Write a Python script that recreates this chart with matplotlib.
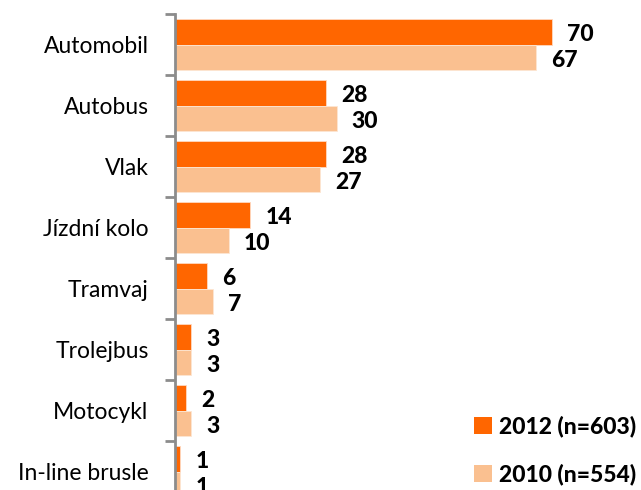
import matplotlib.pyplot as plt
from matplotlib.patches import Patch
import numpy as np

plt.rcParams['font.family'] = ['Lato', 'DejaVu Sans']

categories = ["Automobil", "Autobus", "Vlak", "Jízdní kolo", "Tramvaj",
              "Trolejbus", "Motocykl", "In-line brusle"]
vals_2012 = [70, 28, 28, 14, 6, 3, 2, 1]
vals_2010 = [67, 30, 27, 10, 7, 3, 3, 1]
series_names = ["2012 (n=603)", "2010 (n=554)"]

c2012 = "#FF6600"
c2010 = "#FAC090"

fig = plt.figure(figsize=(6.41, 4.90), dpi=100)
# axes deliberately runs past the bottom edge
ax = fig.add_axes([175 / 641, 1 - 502 / 490, 463 / 641, 488 / 490])

y = np.arange(len(categories))
h = 0.418
b1 = ax.barh(y - h / 2, vals_2012, height=h, color=c2012, edgecolor="#FFD9C0", linewidth=0.6)
b2 = ax.barh(y + h / 2, vals_2010, height=h, color=c2010, edgecolor="#FDE6D2", linewidth=0.6)

for bars, vals in ((b1, vals_2012), (b2, vals_2010)):
    for rect, v in zip(bars, vals):
        ax.annotate(str(v), (rect.get_width(), rect.get_y() + rect.get_height() / 2),
                    xytext=(11, -2), textcoords="offset points",
                    ha="left", va="center", fontsize=16.5, fontweight="black", color="black")

ax.set_xlim(0, 86)
ax.set_ylim(len(categories) - 0.5, -0.5)

for s in ("top", "right", "bottom"):
    ax.spines[s].set_visible(False)
ax.spines["left"].set_color("#8C8C8C")
ax.spines["left"].set_linewidth(2)
ax.set_xticks([])

ax.set_yticks(y)
ax.set_yticklabels(categories, fontsize=16.5)
ax.tick_params(axis="y", which="major", length=0, pad=19)
ax.set_yticks(np.arange(len(categories) + 1) - 0.5, minor=True)
ax.tick_params(axis="y", which="minor", length=7, width=2, color="#8C8C8C")

handles = [Patch(facecolor=c2012, edgecolor="none"), Patch(facecolor=c2010, edgecolor="none")]
fig.legend(handles, series_names, loc="upper right", bbox_to_anchor=(1.0, 1 - 411 / 490),
           frameon=False, prop={"weight": "black", "size": 16.5},
           handlelength=0.8, handleheight=0.8, handletextpad=0.3, labelspacing=1.15,
           borderaxespad=0, borderpad=0.2)

fig.savefig("out.png", dpi=100)
